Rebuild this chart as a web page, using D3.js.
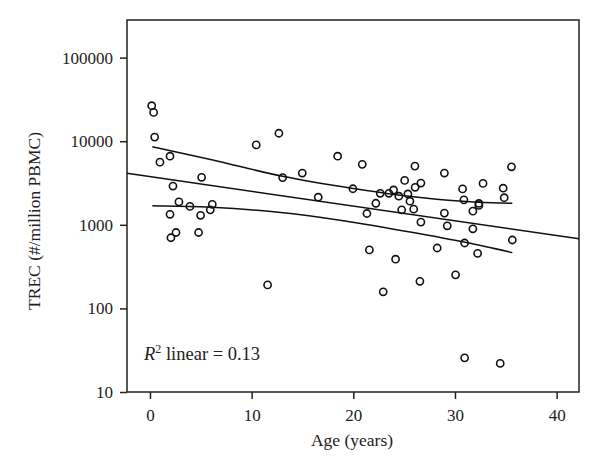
<!DOCTYPE html>
<html><head><meta charset="utf-8">
<script src="https://cdn.jsdelivr.net/npm/d3@7"></script>
<style>html,body{margin:0;padding:0;background:#fff;}</style>
</head><body>
<svg id="chart" width="600" height="472"></svg>
<script>
// Data: age (years) and TREC (#/million PBMC)
const ages = [0.17,0.36,0.46,1.97,0.98,5.08,2.26,2.85,3.93,6.13,5.93,1.97,4.98,2.56,2.06,4.78,
  10.45,12.68,18.46,20.88,13.05,14.98,19.96,16.55,22.22,21.34,21.58,11.57,
  26.06,28.96,25.05,26.65,26.08,23.96,22.65,23.5,24.48,25.37,25.57,30.75,30.88,24.76,25.94,28.96,31.76,
  26.65,29.24,31.76,30.95,28.25,32.23,24.16,35.56,32.76,34.74,34.84,32.35,32.35,35.64,22.94,26.55,30.06,30.95,34.45];
const trec = [26600,22100,11200,6620,5620,3700,2910,1880,1660,1760,1510,1335,1297,809,700,809,
  9040,12450,6620,5290,3670,4160,2700,2140,1810,1365,501,191,
  5040,4160,3400,3160,2810,2610,2380,2380,2200,2340,1915,2690,1990,1510,1540,1380,1456,
  1077,973,896,606,528,455,388,4940,3130,2740,2110,1800,1707,658,158,211,252,25.6,22];
// 95% confidence band of the fit
const upperAges = [0.23,6.07,13.05,19.84,24.43,29.02,32.3,35.64];
const upperVals = [8610,6010,3800,2730,2270,1980,1860,1810];
const lowerAges = [0.23,6.07,12.62,19.18,25.74,30.99,35.64];
const lowerVals = [1690,1620,1410,1110,813,617,465];
const xTicks = [0,10,20,30,40];
const yTicks = [10,100,1000,10000,100000];
const r2Label = "0.13";

const svg = d3.select("#chart");
const font = "'Liberation Serif', 'Times New Roman', serif";
const L = 127, R = 579, T = 20, B = 392;
const x = d3.scaleLinear().domain([-2.26, 42.2]).range([L, R]);
const y = d3.scaleLog().domain([10, Math.pow(10,5.45)]).range([B, T]);

// Linear regression of log10(TREC) on age
const n = ages.length;
const ly = trec.map(v => Math.log10(v));
const mx = d3.mean(ages), my = d3.mean(ly);
let sxx = 0, sxy = 0;
for (let i = 0; i < n; i++) { sxx += (ages[i]-mx)**2; sxy += (ages[i]-mx)*(ly[i]-my); }
const b1 = sxy / sxx, b0 = my - b1*mx;
const fit = a => Math.pow(10, b0 + b1*a);

// Frame
svg.append("rect").attr("x", L).attr("y", T).attr("width", R-L).attr("height", B-T)
  .attr("fill","none").attr("stroke","#222").attr("stroke-width",1.5);

// Axes
const xAxis = svg.append("g").attr("transform",`translate(0,${B})`)
  .call(d3.axisBottom(x).tickValues(xTicks).tickSize(7).tickPadding(10).tickFormat(d3.format("d")));
const yAxis = svg.append("g").attr("transform",`translate(${L},0)`)
  .call(d3.axisLeft(y).tickValues(yTicks).tickSize(7).tickPadding(7).tickFormat(d3.format("d")));
[xAxis,yAxis].forEach(g => {
  g.select(".domain").remove();
  g.selectAll("line").attr("stroke","#222").attr("stroke-width",1.5);
  g.selectAll("text").attr("font-family",font).attr("font-size",17).attr("fill","#222");
});

// Regression line (full width)
const xd = x.domain();
svg.append("path").attr("d", d3.line().x(d => x(d)).y(d => y(fit(d)))(xd))
  .attr("fill","none").attr("stroke","#111").attr("stroke-width",1.5);

// Confidence bands
const band = d3.line().curve(d3.curveMonotoneX).x(d => x(d[0])).y(d => y(d[1]));
svg.append("path").attr("d", band(upperAges.map((a,i)=>[a, upperVals[i]])))
  .attr("fill","none").attr("stroke","#111").attr("stroke-width",1.5);
svg.append("path").attr("d", band(lowerAges.map((a,i)=>[a, lowerVals[i]])))
  .attr("fill","none").attr("stroke","#111").attr("stroke-width",1.5);

// Points
svg.append("g").selectAll("circle").data(ages.map((a,i)=>[a,trec[i]])).join("circle")
  .attr("cx", d => x(d[0])).attr("cy", d => y(d[1])).attr("r", 3.6)
  .attr("fill","none").attr("stroke","#111").attr("stroke-width",1.6);

// Axis titles
svg.append("text").attr("x", 352).attr("y", 446).attr("text-anchor","middle")
  .attr("font-family",font).attr("font-size",17.5).attr("fill","#222").text("Age (years)");
svg.append("text").attr("transform",`translate(40,221) rotate(-90)`).attr("text-anchor","middle")
  .attr("font-family",font).attr("font-size",17.5).attr("fill","#222").text("TREC (#/million PBMC)");

// R² annotation
const ann = svg.append("text").attr("x", 144).attr("y", 360)
  .attr("font-family",font).attr("font-size",18.5).attr("fill","#222");
ann.append("tspan").attr("font-style","italic").text("R");
ann.append("tspan").attr("font-size",12).attr("dy",-7).text("2");
ann.append("tspan").attr("dy",7).text(" linear = " + r2Label);
</script>
</body></html>
